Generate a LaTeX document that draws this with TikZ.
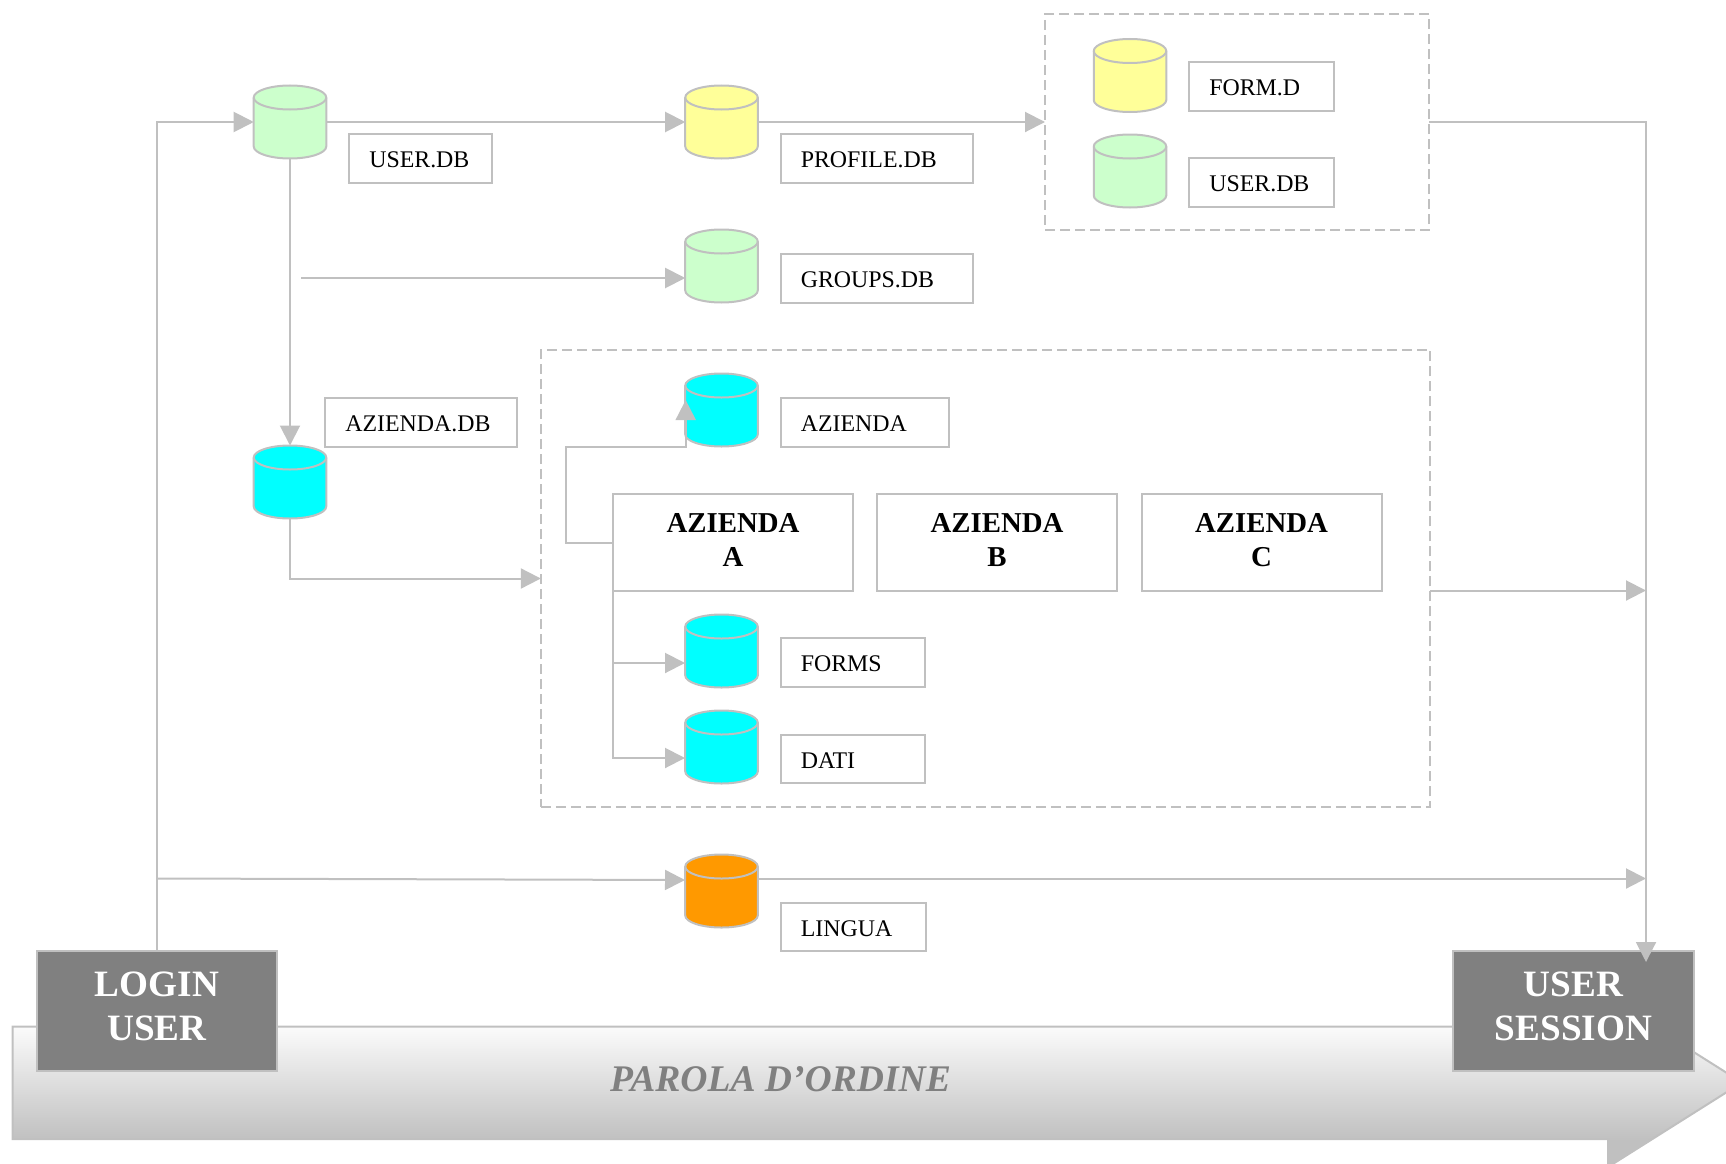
\documentclass[tikz,border=0pt]{standalone}
\usepackage{fontspec}
\setmainfont{Liberation Serif}
\usetikzlibrary{arrows.meta}
\definecolor{linegray}{HTML}{C0C0C0}
\definecolor{boxgray}{HTML}{808080}
\definecolor{dbgreen}{HTML}{CCFFCC}
\definecolor{dbyellow}{HTML}{FFFF99}
\definecolor{dbcyan}{HTML}{00FFFF}
\definecolor{dborange}{HTML}{FF9900}
\definecolor{bartop}{HTML}{FCFCFC}
\pgfdeclareverticalshading{barfade}{100bp}{color(0bp)=(linegray); color(33bp)=(linegray); color(67bp)=(bartop); color(100bp)=(bartop)}
\def\dbcan[#1](#2)(#3){
	\node[dbspot] (#2) at (#3) {};
	\draw[link, fill=#1] ([yshift=-9pt]#2.north west) arc (180:0:27.2pt and 9pt) -- ([yshift=9pt]#2.south east) arc (0:-180:27.2pt and 9pt) -- cycle;
	\draw[link] ([yshift=-9pt]#2.north west) arc (180:360:27.2pt and 9pt);
}
\tikzset{
	dbspot/.style={minimum width=54.4pt, minimum height=54.75pt, inner sep=0pt, outer sep=0pt},
	labelbox/.style={draw=linegray, fill=white, line width=1.5pt, anchor=west, inner xsep=15.2pt, inner ysep=0pt, outer sep=0pt, minimum height=36.5pt, text width=#1, text height=13.5pt, text depth=0pt, align=left, font=\fontsize{17.9}{21}\selectfont},
	firmbox/.style={draw=linegray, fill=white, line width=1.5pt, minimum width=180pt, minimum height=72.5pt, inner sep=0pt, outer sep=0pt, align=center, font=\fontsize{21.6}{24.8}\selectfont\bfseries},
	stagebox/.style={draw=linegray, fill=boxgray, text=white, line width=1.5pt, minimum width=180.5pt, minimum height=90pt, inner sep=0pt, outer sep=0pt, align=center, font=\fontsize{27.9}{33}\selectfont\bfseries},
	groupbox/.style={draw=linegray, line width=1.5pt, dash pattern=on 7.5pt off 3.75pt, minimum width=#1, inner sep=0pt, outer sep=0pt},
	link/.style={draw=linegray, line width=1.5pt},
	flow/.style={link, -{Triangle[length=15pt,width=15pt]}},
}
\begin{document}
\begin{tikzpicture}[x=0.75pt, y=-0.75pt]
			%%%%% START %%%%%
			\useasboundingbox (0, 0) rectangle (1726, 1163);
			
			% big arrow along the bottom
			\draw[draw=linegray, line width=1.5pt, shading=barfade] (12.5, 1026.5) -- (1608, 1026.5) -- (1608, 998) -- (1742, 1082.5) -- (1608, 1167) -- (1608, 1139) -- (12.5, 1139) -- cycle;
			\node[text=boxgray, font=\fontsize{28.2}{33}\selectfont\bfseries\itshape] (password) at (780.5, 1079) {PAROLA D’ORDINE};
			\node[stagebox] (login) at (157, 1011) {LOGIN\\USER\\[-26.5pt]};
			\node[stagebox] (session) at (1573.5, 1011) {USER\\SESSION\\[-26.5pt]};
			
			% dashed groups
			\node[groupbox=288pt, minimum height=162pt] (formgroup) at (1237, 122) {};
			\node[groupbox=667pt, minimum height=342.75pt] (firmgroup) at (985.5, 578.5) {};
			
			% databases and their labels
			\dbcan[dbgreen](userdb)(290, 122)
			\node[labelbox=76.5pt] (userlabel) at (349, 158.5) {USER.DB};
			\dbcan[dbyellow](profiledb)(721.5, 122)
			\node[labelbox=114pt] (profilelabel) at (780.5, 158.5) {PROFILE.DB};
			\dbcan[dbyellow](formdb)(1130, 75.5)
			\node[labelbox=78.4pt] (formlabel) at (1189, 86.5) {FORM.D};
			\dbcan[dbgreen](usersdb)(1130, 171)
			\node[labelbox=78.4pt] (userslabel) at (1189, 182.5) {USER.DB};
			\dbcan[dbgreen](groupsdb)(721.5, 266)
			\node[labelbox=114pt] (groupslabel) at (780.5, 278.5) {GROUPS.DB};
			\dbcan[dbcyan](firmsdb)(290, 482)
			\node[labelbox=113.6pt] (firmslabel) at (325, 422.5) {AZIENDA.DB};
			\dbcan[dbcyan](firmdb)(721.5, 410)
			\node[labelbox=96pt] (firmlabel) at (780.5, 422.5) {AZIENDA};
			\dbcan[dbcyan](formsdb)(721.5, 651)
			\node[labelbox=77.6pt] (formslabel) at (780.5, 662.5) {FORMS};
			\dbcan[dbcyan](datadb)(721.5, 747)
			\node[labelbox=77.6pt] (datalabel) at (780.5, 759) {DATI};
			\dbcan[dborange](langdb)(721.5, 891)
			\node[labelbox=78.4pt] (langlabel) at (780.5, 927) {LINGUA};
			
			% the three firms
			\node[firmbox] (firma) at (733, 542.5) {AZIENDA\\A\\[-21pt]};
			\node[firmbox] (firmb) at (997, 542.5) {AZIENDA\\B\\[-21pt]};
			\node[firmbox] (firmc) at (1261.5, 542.5) {AZIENDA\\C\\[-21pt]};
			
			% free ends
			\coordinate (groupstart) at (301, 278);
			\coordinate (loginbranch) at (157, 878.5);
			\coordinate (langin) at (685, 880);
			\coordinate (langout) at (758, 878.5);
			\coordinate (firmturn) at (566, 447);
			\coordinate (firmtip) at (685.7, 400);
			\coordinate (formsin) at (685, 663);
			\coordinate (datain) at (685, 758);
			\coordinate (sessiontip) at (1646, 962);
			\coordinate (firmout) at (1430, 590.5);
			
			% connectors
			\draw[flow] (login.north) |- (userdb.west);
			\draw[flow] (userdb.east) -- (profiledb.west);
			\draw[flow] (profiledb.east) -- (formgroup.west);
			\draw[flow] (formgroup.east) -| (sessiontip);
			\draw[flow] (userdb.south) -- (firmsdb.north);
			\draw[flow] (groupstart) -- (groupstart -| groupsdb.west);
			\draw[flow] (firmsdb.south) |- (firmgroup.west);
			\draw[flow] (firmout) -- (firmout -| sessiontip);
			\draw[flow] (loginbranch) -- (langin);
			\draw[flow] (langout) -- (langout -| sessiontip);
			\draw[flow] (firma.west) -| (firmturn) -- (firmturn -| firmtip) -- (firmtip);
			\draw[flow] (firma.south west) |- (formsin);
			\draw[flow] (firma.south west) |- (datain);
			
			%%%%% END %%%%%
		\end{tikzpicture}
\end{document}
